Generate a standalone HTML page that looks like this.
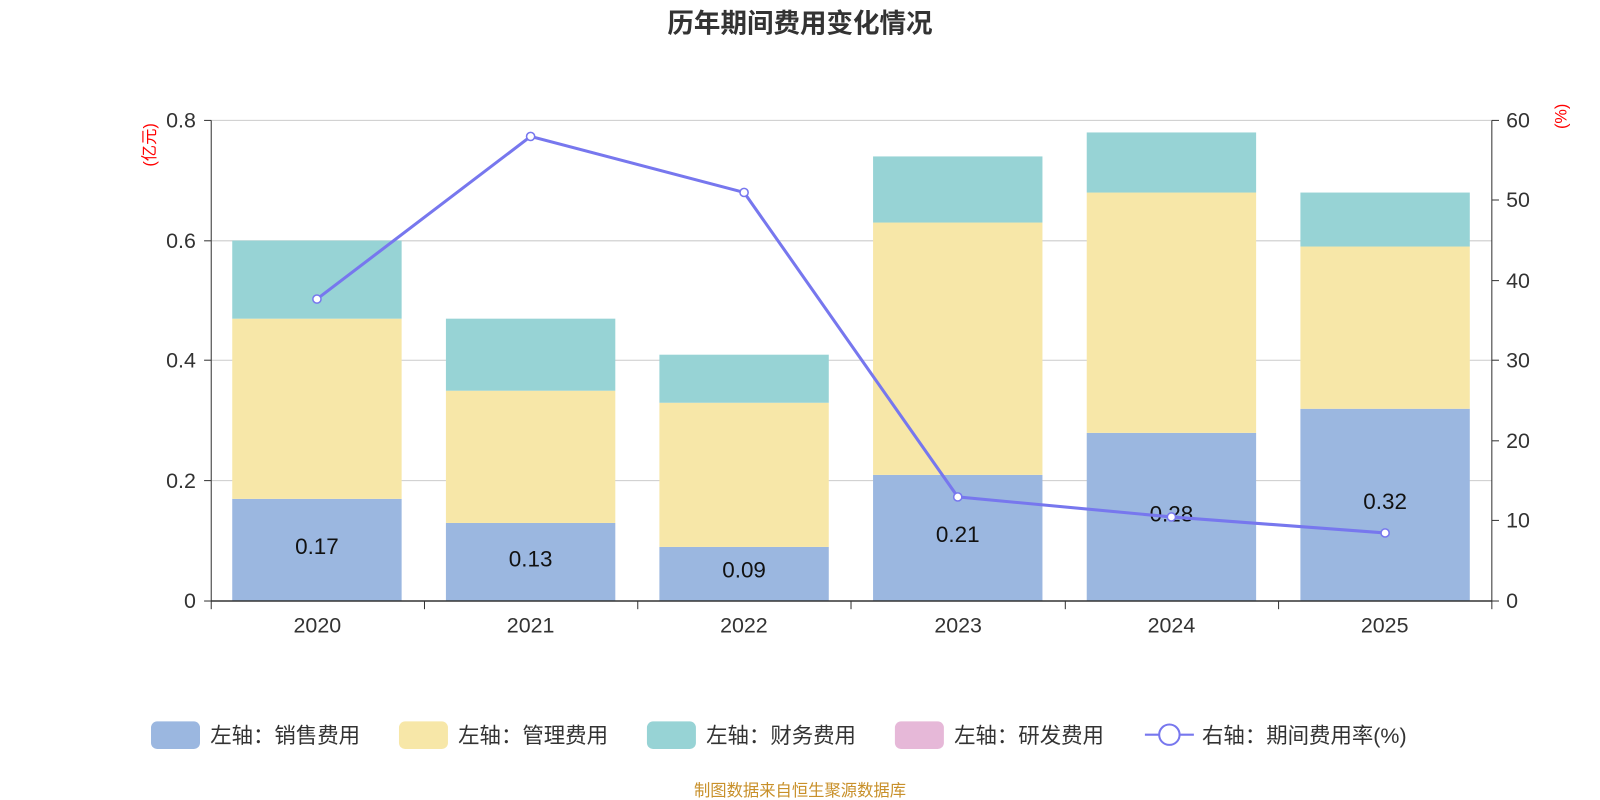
<!DOCTYPE html>
<html><head><meta charset="utf-8"><style>html,body{margin:0;padding:0;background:#fff}svg{display:block}</style></head>
<body>
<svg width="1600" height="800" viewBox="0 0 1568 784" preserveAspectRatio="none" font-family="Liberation Sans, Noto Sans CJK SC, sans-serif">
<text x="784" y="32" text-anchor="middle" font-size="26" font-weight="bold" fill="#333">历年期间费用变化情况</text>
<g stroke="#ccc" stroke-width="1">
<line x1="207" x2="1462" y1="118" y2="118"/><line x1="207" x2="1462" y1="236" y2="236"/>
<line x1="207" x2="1462" y1="353" y2="353"/><line x1="207" x2="1462" y1="471" y2="471"/>
</g>
<g>
<rect x="227.6" y="488.9" width="166" height="100.1" fill="#9bb7e0"/>
<rect x="227.6" y="312.3" width="166" height="176.6" fill="#f7e7a8"/>
<rect x="227.6" y="235.75" width="166" height="76.55" fill="#97d3d5"/>
<rect x="437" y="512.5" width="166" height="76.5" fill="#9bb7e0"/>
<rect x="437" y="382.9" width="166" height="129.6" fill="#f7e7a8"/>
<rect x="437" y="312.3" width="166" height="70.6" fill="#97d3d5"/>
<rect x="646.2" y="536" width="166" height="53" fill="#9bb7e0"/>
<rect x="646.2" y="394.7" width="166" height="141.3" fill="#f7e7a8"/>
<rect x="646.2" y="347.6" width="166" height="47.1" fill="#97d3d5"/>
<rect x="855.6" y="465.4" width="166" height="123.6" fill="#9bb7e0"/>
<rect x="855.6" y="218.1" width="166" height="247.3" fill="#f7e7a8"/>
<rect x="855.6" y="153.3" width="166" height="64.8" fill="#97d3d5"/>
<rect x="1065" y="424.2" width="166" height="164.8" fill="#9bb7e0"/>
<rect x="1065" y="188.7" width="166" height="235.5" fill="#f7e7a8"/>
<rect x="1065" y="129.8" width="166" height="58.9" fill="#97d3d5"/>
<rect x="1274.4" y="400.6" width="166" height="188.4" fill="#9bb7e0"/>
<rect x="1274.4" y="241.6" width="166" height="159" fill="#f7e7a8"/>
<rect x="1274.4" y="188.7" width="166" height="52.9" fill="#97d3d5"/>
</g>
<g font-size="22" fill="#111" text-anchor="middle">
<text x="310.6" y="543">0.17</text><text x="520" y="555">0.13</text><text x="729.2" y="566">0.09</text>
<text x="938.6" y="531">0.21</text><text x="1148" y="511">0.28</text><text x="1357.4" y="499">0.32</text>
</g>
<line x1="207" x2="1462" y1="589" y2="589" stroke="#333" stroke-width="1.5"/>
<line x1="207" x2="207" y1="118" y2="589" stroke="#333"/>
<line x1="1462" x2="1462" y1="118" y2="589" stroke="#333"/>
<g stroke="#333">
<line x1="200" x2="207" y1="118" y2="118"/><line x1="200" x2="207" y1="236" y2="236"/><line x1="200" x2="207" y1="353" y2="353"/><line x1="200" x2="207" y1="471" y2="471"/><line x1="200" x2="207" y1="589" y2="589"/>
<line x1="1462" x2="1469" y1="118" y2="118"/><line x1="1462" x2="1469" y1="196" y2="196"/><line x1="1462" x2="1469" y1="275" y2="275"/><line x1="1462" x2="1469" y1="353" y2="353"/><line x1="1462" x2="1469" y1="432" y2="432"/><line x1="1462" x2="1469" y1="510" y2="510"/><line x1="1462" x2="1469" y1="589" y2="589"/>
<line x1="207" x2="207" y1="589" y2="597"/><line x1="416" x2="416" y1="589" y2="597"/><line x1="625" x2="625" y1="589" y2="597"/><line x1="834" x2="834" y1="589" y2="597"/><line x1="1044" x2="1044" y1="589" y2="597"/><line x1="1253" x2="1253" y1="589" y2="597"/><line x1="1462" x2="1462" y1="589" y2="597"/>
</g>
<g font-size="21" fill="#333" text-anchor="end">
<text x="192" y="125">0.8</text><text x="192" y="243">0.6</text><text x="192" y="360">0.4</text><text x="192" y="478">0.2</text><text x="192" y="596">0</text>
</g>
<g font-size="21" fill="#333">
<text x="1476" y="125">60</text><text x="1476" y="203">50</text><text x="1476" y="282">40</text><text x="1476" y="360">30</text><text x="1476" y="439">20</text><text x="1476" y="517">10</text><text x="1476" y="596">0</text>
</g>
<g font-size="21" fill="#333" text-anchor="middle">
<text x="311" y="620">2020</text><text x="520" y="620">2021</text><text x="729" y="620">2022</text><text x="939" y="620">2023</text><text x="1148" y="620">2024</text><text x="1357" y="620">2025</text>
</g>
<text transform="translate(152,142) rotate(-90)" font-size="16" fill="red" text-anchor="middle">(亿元)</text>
<text transform="translate(1535,114) rotate(-90)" font-size="16" fill="red" text-anchor="middle">(%)</text>
<polyline points="310.6,293.1 520,133.7 729.2,188.6 938.6,487 1148,506.6 1357.4,522.3" fill="none" stroke="#7777ee" stroke-width="3"/>
<g fill="#fff" stroke="#7777ee" stroke-width="1.5">
<circle cx="310.6" cy="293.1" r="4"/><circle cx="520" cy="133.7" r="4"/><circle cx="729.2" cy="188.6" r="4"/><circle cx="938.6" cy="487" r="4"/><circle cx="1148" cy="506.6" r="4"/><circle cx="1357.4" cy="522.3" r="4"/>
</g>
<line x1="1122" x2="1170" y1="720" y2="720" stroke="#7777ee" stroke-width="2"/>
<circle cx="1146" cy="720" r="10" fill="#fff" stroke="#7777ee" stroke-width="2"/>
<g font-size="21" fill="#333">
<rect x="148" y="707" width="48" height="27" rx="6" fill="#9bb7e0"/><text x="206" y="728">左轴：销售费用</text>
<rect x="391" y="707" width="48" height="27" rx="6" fill="#f7e7a8"/><text x="449" y="728">左轴：管理费用</text>
<rect x="634" y="707" width="48" height="27" rx="6" fill="#97d3d5"/><text x="692" y="728">左轴：财务费用</text>
<rect x="877" y="707" width="48" height="27" rx="6" fill="#e6b8d8"/><text x="935" y="728">左轴：研发费用</text>
<text x="1178" y="728">右轴：期间费用率(%)</text>
</g>
<text x="784" y="780" text-anchor="middle" font-size="16" fill="#c8902a">制图数据来自恒生聚源数据库</text>
</svg>
</body></html>
